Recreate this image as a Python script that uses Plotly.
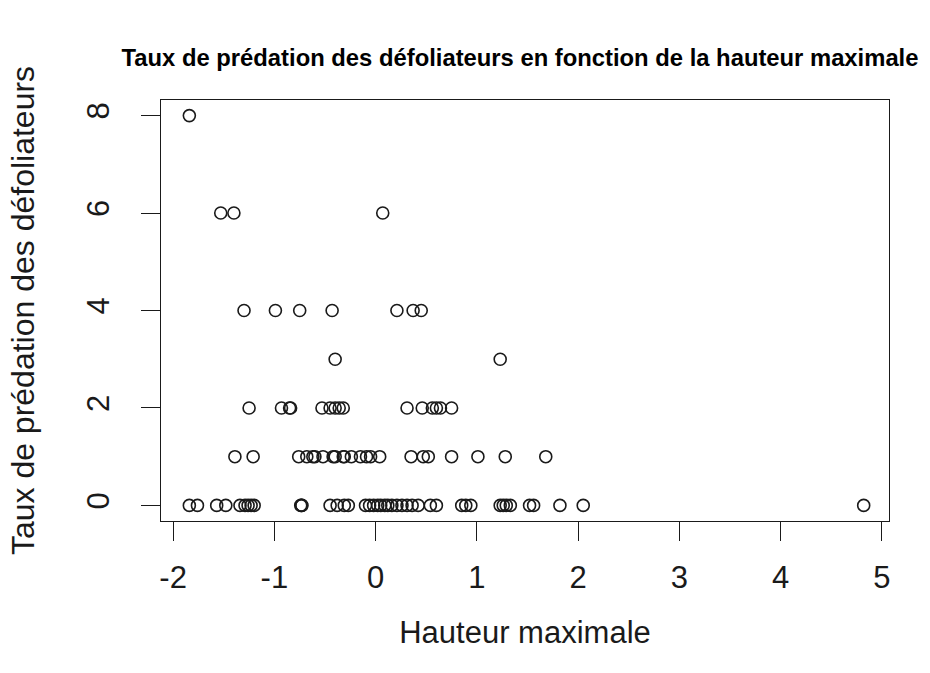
import plotly.graph_objects as go

# Predation rate of defoliators (counts) against standardized maximum height,
# grouped by observed rate value.
hauteur_taux0 = [-1.84, -1.76, -1.57, -1.48, -1.34, -1.29, -1.26, -1.23, -1.20,
                 -0.74, -0.73, -0.73, -0.45, -0.38, -0.31, -0.27, -0.10, -0.06,
                 -0.02, 0.02, 0.05, 0.09, 0.12, 0.16, 0.21, 0.26, 0.31, 0.36,
                 0.42, 0.54, 0.60, 0.85, 0.89, 0.94, 1.23, 1.26, 1.29, 1.33,
                 1.52, 1.56, 1.82, 2.05, 4.82]
hauteur_taux1 = [-1.39, -1.21, -0.76, -0.68, -0.62, -0.60, -0.52, -0.42, -0.40,
                 -0.32, -0.31, -0.24, -0.15, -0.09, -0.05, 0.04, 0.35, 0.47,
                 0.52, 0.75, 1.01, 1.28, 1.68]
hauteur_taux2 = [-1.25, -0.93, -0.85, -0.84, -0.53, -0.45, -0.40, -0.36, -0.32,
                 0.31, 0.46, 0.56, 0.60, 0.64, 0.75]
hauteur_taux3 = [-0.40, 1.23]
hauteur_taux4 = [-1.30, -0.99, -0.75, -0.43, 0.21, 0.37, 0.45]
hauteur_taux6 = [-1.53, -1.40, 0.07]
hauteur_taux8 = [-1.84]

groups = [(0, hauteur_taux0), (1, hauteur_taux1), (2, hauteur_taux2),
          (3, hauteur_taux3), (4, hauteur_taux4), (6, hauteur_taux6),
          (8, hauteur_taux8)]

x_vals, y_vals = [], []
for taux, hauteurs in groups:
    x_vals.extend(hauteurs)
    y_vals.extend([taux] * len(hauteurs))

x_ticks = [-2, -1, 0, 1, 2, 3, 4, 5]
x_tick_labels = ["-2", "-1", "0", "1", "2", "3", "4", "5"]
y_ticks = [0, 2, 4, 6, 8]
y_tick_labels = ["0", "2", "4", "6", "8"]

FONT = "Liberation Sans, Arial, sans-serif"
INK = "#1a1a1a"

fig = go.Figure(
    go.Scatter(
        x=x_vals,
        y=y_vals,
        mode="markers",
        marker=dict(symbol="circle-open", size=12, color=INK,
                    line=dict(width=1.6, color=INK)),
        hoverinfo="x+y",
    )
)

axis_common = dict(
    showgrid=False,
    zeroline=False,
    showline=True,
    mirror=True,
    linecolor=INK,
    linewidth=1.3,
    ticks="outside",
    ticklen=19,
    tickwidth=1.3,
    tickcolor=INK,
    tickfont=dict(family=FONT, size=31, color=INK),
)

fig.update_layout(
    width=930,
    height=673,
    paper_bgcolor="white",
    plot_bgcolor="white",
    margin=dict(l=161, r=41, t=100, b=152),
    showlegend=False,
    title=dict(
        text="<b>Taux de prédation des défoliateurs en fonction de la hauteur maximale</b>",
        font=dict(family=FONT, size=23.8, color="black"),
        x=520 / 930, xref="container", xanchor="center",
        y=1 - 58 / 673, yref="container", yanchor="middle",
    ),
    xaxis=dict(
        axis_common,
        range=[-2.12, 5.07],
        tickmode="array",
        tickvals=x_ticks,
        ticktext=x_tick_labels,
        ticklabelstandoff=10,
        title=dict(text="Hauteur maximale", standoff=26,
                   font=dict(family=FONT, size=31, color=INK)),
    ),
    yaxis=dict(
        axis_common,
        range=[-0.32, 8.32],
        tickmode="array",
        tickvals=y_ticks,
        ticktext=y_tick_labels,
        tickangle=-90,
        ticklabelstandoff=19,
        title=dict(text="Taux de prédation des défoliateurs", standoff=37,
                   font=dict(family=FONT, size=32, color=INK)),
    ),
)

fig.write_html("out.html")
